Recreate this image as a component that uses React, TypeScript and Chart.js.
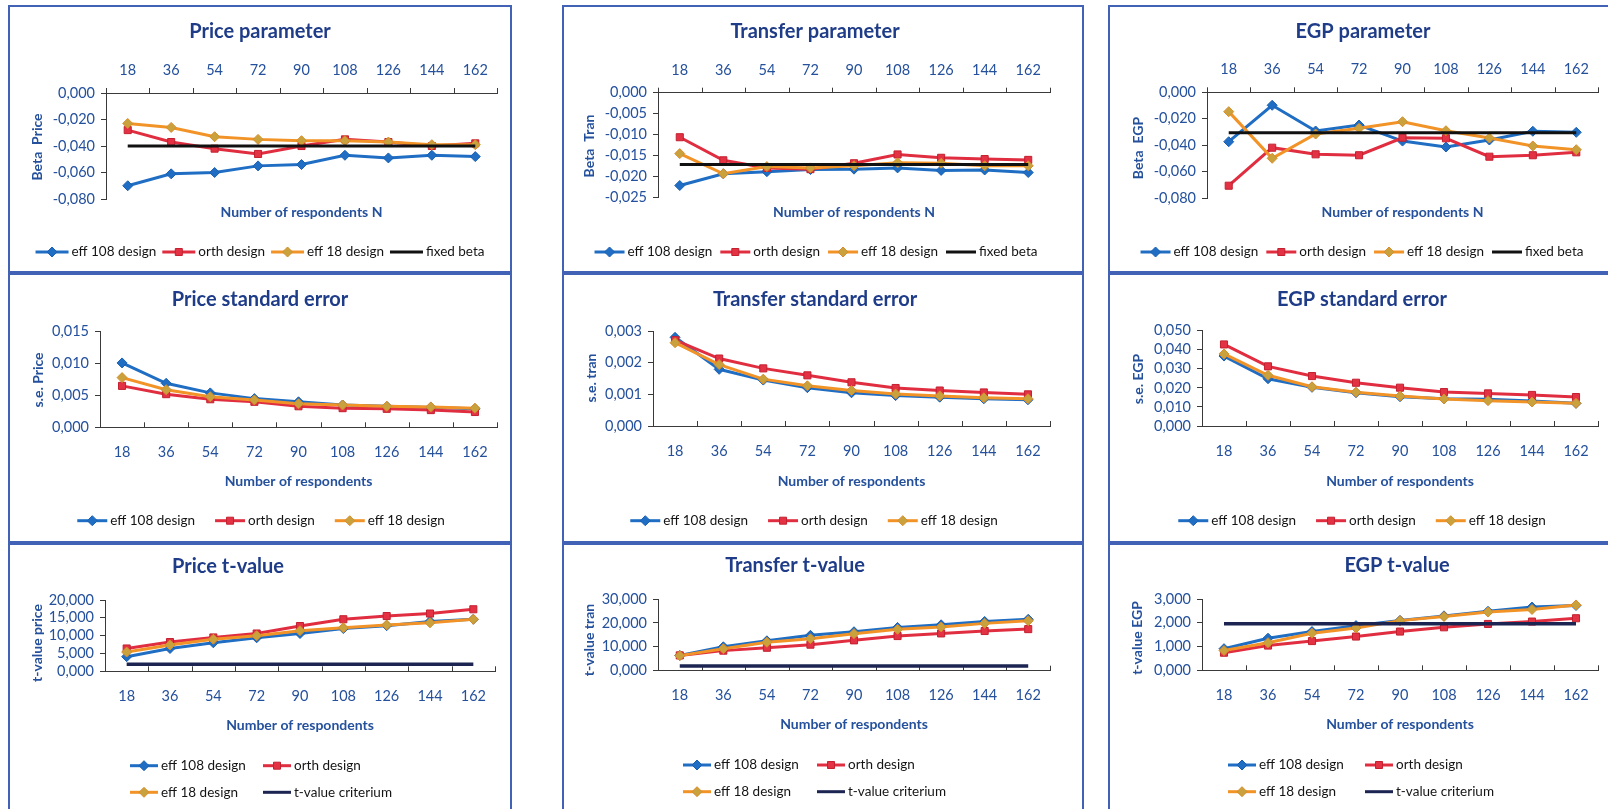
import React, { useEffect, useRef } from "react";
import { Chart, registerables } from "chart.js";

Chart.register(...registerables);
Chart.defaults.font.family = "Lato, 'Noto Sans', sans-serif";

// ---------- data ----------
const respondents = ["18", "36", "54", "72", "90", "108", "126", "144", "162"];

const designNames = ["eff 108 design", "orth design", "eff 18 design"];
const fixedBetaName = "fixed beta";
const criteriumName = "t-value criterium";

// parameter estimates
const priceBetaEff108 = [-0.07, -0.061, -0.06, -0.055, -0.054, -0.047, -0.049, -0.047, -0.048];
const priceBetaOrth = [-0.028, -0.037, -0.042, -0.046, -0.04, -0.035, -0.037, -0.04, -0.038];
const priceBetaEff18 = [-0.023, -0.026, -0.033, -0.035, -0.036, -0.036, -0.037, -0.039, -0.039];
const priceBetaFixed = -0.04;

const tranBetaEff108 = [-0.0221, -0.0193, -0.0188, -0.0183, -0.0182, -0.0179, -0.0185, -0.0184, -0.019];
const tranBetaOrth = [-0.0106, -0.0161, -0.0179, -0.0182, -0.0168, -0.0147, -0.0155, -0.0158, -0.016];
const tranBetaEff18 = [-0.0145, -0.0193, -0.0176, -0.0179, -0.0174, -0.0167, -0.0168, -0.0174, -0.0174];
const tranBetaFixed = -0.0171;

const egpBetaEff108 = [-0.0373, -0.0098, -0.0292, -0.0247, -0.0368, -0.0413, -0.036, -0.0294, -0.0302];
const egpBetaOrth = [-0.0705, -0.0418, -0.0468, -0.0475, -0.0343, -0.0347, -0.0486, -0.0475, -0.0453];
const egpBetaEff18 = [-0.0146, -0.0498, -0.0315, -0.0272, -0.0222, -0.029, -0.0345, -0.0405, -0.0433];
const egpBetaFixed = -0.0305;

// standard errors
const priceSeEff108 = [0.0101, 0.0069, 0.0054, 0.0045, 0.004, 0.0035, 0.0033, 0.0031, 0.0029];
const priceSeOrth = [0.0065, 0.0052, 0.0044, 0.004, 0.0033, 0.003, 0.0029, 0.0027, 0.0024];
const priceSeEff18 = [0.0078, 0.0059, 0.0048, 0.0043, 0.0037, 0.0035, 0.0033, 0.0032, 0.003];

const tranSeEff108 = [0.0028, 0.00179, 0.00145, 0.00121, 0.00105, 0.00096, 0.00091, 0.00086, 0.00083];
const tranSeOrth = [0.00271, 0.00213, 0.00182, 0.0016, 0.00138, 0.0012, 0.00112, 0.00106, 0.001];
const tranSeEff18 = [0.00263, 0.00194, 0.00148, 0.00127, 0.00112, 0.00101, 0.00095, 0.00089, 0.00086];

const egpSeEff108 = [0.0367, 0.0248, 0.0203, 0.0175, 0.0154, 0.0143, 0.014, 0.0131, 0.0119];
const egpSeOrth = [0.0428, 0.0313, 0.0262, 0.0227, 0.0201, 0.0178, 0.0171, 0.0163, 0.0152];
const egpSeEff18 = [0.0378, 0.0266, 0.0206, 0.0177, 0.0157, 0.0142, 0.0133, 0.0126, 0.0119];

// t-values
const priceTEff108 = [4.1, 6.4, 8.0, 9.4, 10.6, 12.0, 12.8, 14.0, 14.6];
const priceTOrth = [6.4, 8.2, 9.5, 10.6, 12.7, 14.6, 15.5, 16.2, 17.4];
const priceTEff18 = [5.4, 7.4, 9.0, 10.0, 11.4, 12.2, 13.0, 13.6, 14.6];

const tranTEff108 = [6.4, 10.0, 12.5, 14.8, 16.3, 18.1, 19.2, 20.6, 21.5];
const tranTOrth = [6.4, 8.4, 9.6, 10.9, 12.7, 14.5, 15.6, 16.6, 17.4];
const tranTEff18 = [6.3, 9.2, 11.9, 13.4, 15.5, 17.3, 18.3, 19.8, 20.9];

const egpTEff108 = [0.91, 1.35, 1.63, 1.88, 2.1, 2.29, 2.48, 2.66, 2.73];
const egpTOrth = [0.74, 1.04, 1.23, 1.42, 1.63, 1.81, 1.95, 2.05, 2.19];
const egpTEff18 = [0.83, 1.16, 1.56, 1.78, 2.09, 2.26, 2.45, 2.56, 2.75];

const tValueCriterium = 1.96;

// ---------- styling ----------
type Kind = "eff108" | "orth" | "eff18" | "fixed" | "crit";
type Marker = "rectRot" | "rect" | null;

const KIND_STYLE: Record<Kind, { line: string; fill: string; edge: string; marker: Marker; order: number; width: number }> = {
  eff108: { line: "#1F6EC4", fill: "#1F6EC4", edge: "#1A60B0", marker: "rectRot", order: 4, width: 3 },
  orth: { line: "#E02E40", fill: "#E23244", edge: "#C42030", marker: "rect", order: 3, width: 3 },
  eff18: { line: "#F29327", fill: "#C9A23E", edge: "#D88C2A", marker: "rectRot", order: 2, width: 3 },
  fixed: { line: "#111111", fill: "#111111", edge: "#111111", marker: null, order: 1, width: 3 },
  crit: { line: "#1C2452", fill: "#1C2452", edge: "#1C2452", marker: null, order: 1, width: 3.5 },
};

const BORDER_COLOR = "#4262B6";
const AXIS_COLOR = "#3A3A3A";
const TICK_COLOR = "#24509C";
const TITLE_COLOR = "#1F3C88";
const LEGEND_COLOR = "#141414";
const TITLE_FONT = "bold 20px Lato, sans-serif";
const AXIS_TITLE_FONT = "bold 14px Lato, sans-serif";
const LEGEND_FONT = "13.5px Lato, sans-serif";
const TICK_FONT = { family: "Lato, sans-serif", size: 14.5 };

type Series = { label: string; data: number[]; kind: Kind };

type LegendCfg = {
  rows: number[][];
  y: number[];
  line: number;
  centerX?: number;
  gap?: number;
  columns?: number[];
};

type PanelCfg = {
  box: [number, number, number, number];
  plot: [number, number, number, number];
  xAxisTop: boolean;
  labelPad: number;
  yMin: number;
  yMax: number;
  yStep: number;
  title: string;
  titleAt: [number, number];
  yTitle: string;
  yTitleAt: [number, number];
  xTitle: string;
  xTitleY: number;
  series: Series[];
  legend: LegendCfg;
};

const constant = (v: number) => respondents.map(() => v);

const designs = (a: number[], b: number[], c: number[]): Series[] => [
  { label: designNames[0], data: a, kind: "eff108" },
  { label: designNames[1], data: b, kind: "orth" },
  { label: designNames[2], data: c, kind: "eff18" },
];

// panel grid (page pixels)
const COLS: [number, number][] = [[8, 512], [562, 1084], [1108, 1632]];
const ROWS: [number, number][] = [[5, 273], [273, 543], [543, 820]];
const box = (c: number, r: number): [number, number, number, number] => [COLS[c][0], ROWS[r][0], COLS[c][1], ROWS[r][1]];

const PANELS: PanelCfg[] = [
  {
    box: box(0, 0), plot: [106, 93, 497, 199], xAxisTop: true, labelPad: 14,
    yMin: -0.08, yMax: 0, yStep: 0.02,
    title: "Price parameter", titleAt: [260, 32],
    yTitle: "Beta  Price", yTitleAt: [37, 147],
    xTitle: "Number of respondents N", xTitleY: 212,
    series: [...designs(priceBetaEff108, priceBetaOrth, priceBetaEff18), { label: fixedBetaName, data: constant(priceBetaFixed), kind: "fixed" }],
    legend: { rows: [[0, 1, 2, 3]], y: [252], line: 33, centerX: 260, gap: 6 },
  },
  {
    box: box(1, 0), plot: [658, 92.7, 1050, 197.7], xAxisTop: true, labelPad: 14,
    yMin: -0.025, yMax: 0, yStep: 0.005,
    title: "Transfer parameter", titleAt: [815, 32],
    yTitle: "Beta  Tran", yTitleAt: [589, 146],
    xTitle: "Number of respondents N", xTitleY: 212,
    series: [...designs(tranBetaEff108, tranBetaOrth, tranBetaEff18), { label: fixedBetaName, data: constant(tranBetaFixed), kind: "fixed" }],
    legend: { rows: [[0, 1, 2, 3]], y: [252], line: 30, centerX: 816, gap: 8 },
  },
  {
    box: box(2, 0), plot: [1207, 92.3, 1598, 198.3], xAxisTop: true, labelPad: 14,
    yMin: -0.08, yMax: 0, yStep: 0.02,
    title: "EGP parameter", titleAt: [1363, 32],
    yTitle: "Beta  EGP", yTitleAt: [1138, 148],
    xTitle: "Number of respondents N", xTitleY: 212,
    series: [...designs(egpBetaEff108, egpBetaOrth, egpBetaEff18), { label: fixedBetaName, data: constant(egpBetaFixed), kind: "fixed" }],
    legend: { rows: [[0, 1, 2, 3]], y: [252], line: 30, centerX: 1362, gap: 8 },
  },
  {
    box: box(0, 1), plot: [100, 331.7, 497, 427.3], xAxisTop: false, labelPad: 16,
    yMin: 0, yMax: 0.015, yStep: 0.005,
    title: "Price standard error", titleAt: [260, 300],
    yTitle: "s.e. Price", yTitleAt: [38, 380],
    xTitle: "Number of respondents", xTitleY: 481,
    series: designs(priceSeEff108, priceSeOrth, priceSeEff18),
    legend: { rows: [[0, 1, 2]], y: [520.7], line: 30, centerX: 261, gap: 20 },
  },
  {
    box: box(1, 1), plot: [653, 331, 1050, 426], xAxisTop: false, labelPad: 17,
    yMin: 0, yMax: 0.003, yStep: 0.001,
    title: "Transfer standard error", titleAt: [815, 300],
    yTitle: "s.e. tran", yTitleAt: [591, 378],
    xTitle: "Number of respondents", xTitleY: 481,
    series: designs(tranSeEff108, tranSeOrth, tranSeEff18),
    legend: { rows: [[0, 1, 2]], y: [520.7], line: 30, centerX: 814, gap: 20 },
  },
  {
    box: box(2, 1), plot: [1202, 330.7, 1598, 426], xAxisTop: false, labelPad: 17,
    yMin: 0, yMax: 0.05, yStep: 0.01,
    title: "EGP standard error", titleAt: [1362, 300],
    yTitle: "s.e. EGP", yTitleAt: [1138, 379],
    xTitle: "Number of respondents", xTitleY: 481,
    series: designs(egpSeEff108, egpSeOrth, egpSeEff18),
    legend: { rows: [[0, 1, 2]], y: [520.7], line: 30, centerX: 1362, gap: 20 },
  },
  {
    box: box(0, 2), plot: [105, 600, 495, 671.3], xAxisTop: false, labelPad: 16,
    yMin: 0, yMax: 20, yStep: 5,
    title: "Price t-value", titleAt: [228, 566.7],
    yTitle: "t-value price", yTitleAt: [37, 643],
    xTitle: "Number of respondents", xTitleY: 725,
    series: [...designs(priceTEff108, priceTOrth, priceTEff18), { label: criteriumName, data: constant(tValueCriterium), kind: "crit" }],
    legend: { rows: [[0, 1], [2, 3]], y: [765.7, 792.3], line: 28, columns: [130, 263] },
  },
  {
    box: box(1, 2), plot: [658, 599, 1050, 670.7], xAxisTop: false, labelPad: 16,
    yMin: 0, yMax: 30, yStep: 10,
    title: "Transfer t-value", titleAt: [795, 566],
    yTitle: "t-value tran", yTitleAt: [589, 640],
    xTitle: "Number of respondents", xTitleY: 724.3,
    series: [...designs(tranTEff108, tranTOrth, tranTEff18), { label: criteriumName, data: constant(tValueCriterium), kind: "crit" }],
    legend: { rows: [[0, 1], [2, 3]], y: [765, 791.7], line: 28, columns: [683, 817] },
  },
  {
    box: box(2, 2), plot: [1202, 599, 1598, 670.3], xAxisTop: false, labelPad: 16,
    yMin: 0, yMax: 3, yStep: 1,
    title: "EGP t-value", titleAt: [1397, 566],
    yTitle: "t-value EGP", yTitleAt: [1137, 638],
    xTitle: "Number of respondents", xTitleY: 724.3,
    series: [...designs(egpTEff108, egpTOrth, egpTEff18), { label: criteriumName, data: constant(tValueCriterium), kind: "crit" }],
    legend: { rows: [[0, 1], [2, 3]], y: [765, 791.7], line: 28, columns: [1228, 1365] },
  },
];

// ---------- drawing helpers ----------
const fmt = (v: number) => (Math.abs(v) < 1e-12 ? 0 : v).toFixed(3).replace(".", ",");

function drawMarker(ctx: CanvasRenderingContext2D, x: number, y: number, kind: Kind) {
  const s = KIND_STYLE[kind];
  if (!s.marker) return;
  ctx.fillStyle = s.fill;
  ctx.strokeStyle = s.edge;
  ctx.lineWidth = 1;
  ctx.beginPath();
  if (s.marker === "rectRot") {
    ctx.moveTo(x, y - 5);
    ctx.lineTo(x + 5, y);
    ctx.lineTo(x, y + 5);
    ctx.lineTo(x - 5, y);
    ctx.closePath();
  } else {
    ctx.rect(x - 3.5, y - 3.5, 7, 7);
  }
  ctx.fill();
  ctx.stroke();
}

function drawLegendItem(ctx: CanvasRenderingContext2D, x: number, y: number, s: Series, line: number) {
  const st = KIND_STYLE[s.kind];
  ctx.strokeStyle = st.line;
  ctx.lineWidth = 3;
  ctx.beginPath();
  ctx.moveTo(x, y);
  ctx.lineTo(x + line, y);
  ctx.stroke();
  drawMarker(ctx, x + line / 2, y, s.kind);
  ctx.fillStyle = LEGEND_COLOR;
  ctx.textAlign = "left";
  ctx.textBaseline = "middle";
  ctx.fillText(s.label, x + line + 3, y);
}

function panelDecor(cfg: PanelCfg) {
  const ox = cfg.box[0];
  const oy = cfg.box[1];
  return {
    id: "panelDecor",
    beforeDatasetsDraw(chart: Chart) {
      // small tick marks at the category boundaries of the x axis
      const ctx = chart.ctx;
      const a = chart.chartArea;
      const n = (chart.data.labels || []).length;
      const axisY = cfg.xAxisTop ? a.top : a.bottom;
      ctx.save();
      ctx.strokeStyle = AXIS_COLOR;
      ctx.lineWidth = 1;
      for (let i = 0; i <= n; i++) {
        const x = Math.round(a.left + ((a.right - a.left) * i) / n) + 0.5;
        ctx.beginPath();
        ctx.moveTo(x, axisY);
        ctx.lineTo(x, axisY - 5);
        ctx.stroke();
      }
      ctx.restore();
    },
    afterDraw(chart: Chart) {
      const ctx = chart.ctx;
      const a = chart.chartArea;
      ctx.save();
      ctx.textAlign = "center";
      ctx.textBaseline = "middle";

      ctx.font = TITLE_FONT;
      ctx.fillStyle = TITLE_COLOR;
      ctx.fillText(cfg.title, cfg.titleAt[0] - ox, cfg.titleAt[1] - oy);

      ctx.font = AXIS_TITLE_FONT;
      ctx.fillStyle = TICK_COLOR;
      ctx.fillText(cfg.xTitle, (a.left + a.right) / 2, cfg.xTitleY - oy);

      ctx.save();
      ctx.translate(cfg.yTitleAt[0] - ox, cfg.yTitleAt[1] - oy);
      ctx.rotate(-Math.PI / 2);
      ctx.fillText(cfg.yTitle, 0, 0);
      ctx.restore();

      const lg = cfg.legend;
      ctx.font = LEGEND_FONT;
      if (lg.columns) {
        lg.rows.forEach((row, r) =>
          row.forEach((si, c) => drawLegendItem(ctx, lg.columns![c] - ox, lg.y[r] - oy, cfg.series[si], lg.line))
        );
      } else {
        lg.rows.forEach((row, r) => {
          const widths = row.map((si) => lg.line + 3 + ctx.measureText(cfg.series[si].label).width);
          const total = widths.reduce((p, w) => p + w, 0) + (lg.gap || 0) * (row.length - 1);
          let x = (lg.centerX || 0) - total / 2 - ox;
          row.forEach((si, k) => {
            drawLegendItem(ctx, x, lg.y[r] - oy, cfg.series[si], lg.line);
            x += widths[k] + (lg.gap || 0);
          });
        });
      }
      ctx.restore();
    },
  };
}

function Panel({ cfg }: { cfg: PanelCfg }) {
  const ref = useRef<HTMLCanvasElement>(null);
  const [bl, bt, br, bb] = cfg.box;
  const w = br - bl;
  const h = bb - bt;

  useEffect(() => {
    const canvas = ref.current;
    if (!canvas) return;
    const [pl, pt, pr, pb] = cfg.plot;
    const chart = new Chart(canvas, {
      type: "line",
      data: {
        labels: respondents,
        datasets: cfg.series.map((s) => {
          const st = KIND_STYLE[s.kind];
          return {
            label: s.label,
            data: s.data,
            borderColor: st.line,
            backgroundColor: st.fill,
            borderWidth: st.width,
            pointStyle: st.marker || "circle",
            pointRadius: st.marker ? 5 : 0,
            pointBackgroundColor: st.fill,
            pointBorderColor: st.edge,
            pointBorderWidth: 1,
            tension: 0,
            fill: false,
            order: st.order,
          };
        }),
      },
      options: {
        responsive: false,
        maintainAspectRatio: false,
        animation: false,
        devicePixelRatio: 1,
        events: [],
        layout: {
          padding: {
            left: 0,
            right: br - pr,
            top: cfg.xAxisTop ? 0 : pt - bt,
            bottom: cfg.xAxisTop ? bb - pb : 0,
          },
        },
        plugins: {
          legend: { display: false },
          title: { display: false },
          tooltip: { enabled: false },
        },
        scales: {
          x: {
            type: "category",
            position: cfg.xAxisTop ? "top" : "bottom",
            offset: true,
            grid: { display: false, drawTicks: false },
            border: { display: true, color: AXIS_COLOR, width: 1 },
            ticks: { color: TICK_COLOR, font: TICK_FONT, padding: cfg.labelPad, maxRotation: 0, autoSkip: false },
            afterFit: (s: any) => {
              s.height = cfg.xAxisTop ? pt - bt : bb - pb;
            },
          },
          y: {
            type: "linear",
            min: cfg.yMin,
            max: cfg.yMax,
            grid: { drawOnChartArea: false, drawTicks: true, tickLength: 5, color: AXIS_COLOR },
            border: { display: true, color: AXIS_COLOR, width: 1 },
            ticks: {
              stepSize: cfg.yStep,
              autoSkip: false,
              color: TICK_COLOR,
              font: TICK_FONT,
              padding: 6,
              callback: (v: any) => fmt(Number(v)),
            },
            afterFit: (s: any) => {
              s.width = pl - bl;
            },
          },
        },
      },
      plugins: [panelDecor(cfg)],
    } as any);
    return () => chart.destroy();
  }, [cfg]);

  return (
    <div
      style={{
        position: "absolute",
        left: bl,
        top: bt,
        width: w,
        height: h,
        boxSizing: "border-box",
        border: `2px solid ${BORDER_COLOR}`,
        background: "#ffffff",
      }}
    >
      <canvas
        ref={ref}
        width={w}
        height={h}
        style={{ position: "absolute", left: -2, top: -2, width: w, height: h, display: "block" }}
      />
    </div>
  );
}

export default function App() {
  return (
    <div
      style={{
        position: "fixed",
        left: 0,
        top: 0,
        width: 1608,
        height: 809,
        overflow: "hidden",
        background: "#ffffff",
      }}
    >
      {PANELS.map((p, i) => (
        <Panel key={i} cfg={p} />
      ))}
    </div>
  );
}
